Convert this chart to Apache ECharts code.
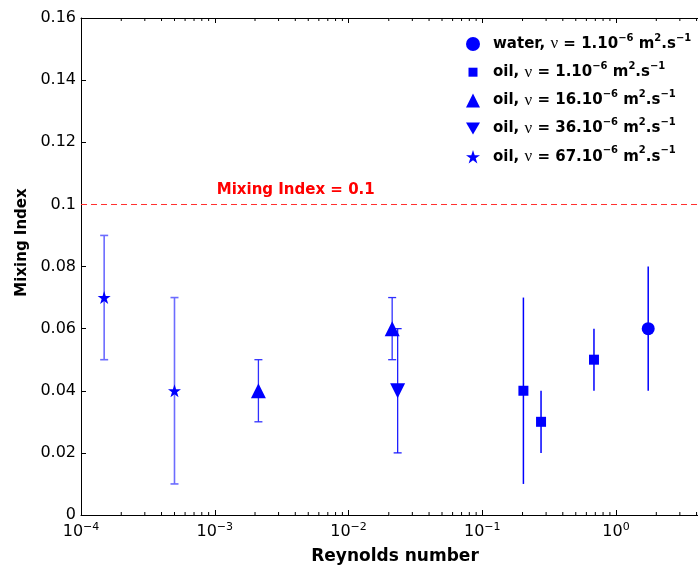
<!DOCTYPE html>
<html>
<head>
<meta charset="utf-8">
<script src="https://cdn.jsdelivr.net/npm/echarts@6/dist/echarts.min.js"></script>
<style>
html, body { margin: 0; padding: 0; background: #fff; }
#chart { width: 698px; height: 570px; }
</style>
</head>
<body>
<div id="chart"></div>
<script>
// values (Reynolds number, mixing index, error bar ends)
var waterRe = [1.74];
var waterMix = [0.06];
var waterLow = [0.04];
var waterHigh = [0.08];

var oil1Re = [0.203, 0.275, 0.684];
var oil1Mix = [0.04, 0.03, 0.05];
var oil1Low = [0.01, 0.02, 0.04];
var oil1High = [0.07, 0.04, 0.06];

var oil16Re = [0.00212, 0.0212];
var oil16Mix = [0.04, 0.06];
var oil16Low = [0.03, 0.05];
var oil16High = [0.05, 0.07];

var oil36Re = [0.0233];
var oil36Mix = [0.04];
var oil36Low = [0.02];
var oil36High = [0.06];

var oil67Re = [0.000149, 0.0005];
var oil67Mix = [0.07, 0.04];
var oil67Low = [0.05, 0.01];
var oil67High = [0.09, 0.07];

var fluids = ['water', 'oil', 'oil', 'oil', 'oil'];
var viscosities = ['1', '1', '16', '36', '67'];

var limitValue = 0.1;
var limitLabel = 'Mixing Index = 0.1';
var limitLabelRe = 0.00403;

var xMin = 1e-4, xMax = 4.1;
var yMin = 0, yMax = 0.16, yStep = 0.02;

// minor ticks of the log axis: 2..9 in every decade
var minorTicks = [];
for (var k = -4; k <= 0; k++) {
    for (var m = 2; m <= 9; m++) {
        var v = m * Math.pow(10, k);
        if (v < xMax) minorTicks.push([v, yMin]);
    }
}

var seriesNames = fluids.map(function (f, i) {
    return f + ', ν = ' + viscosities[i] + '.10-6 m2.s-1';
});

function zip(xs, ys) {
    return xs.map(function (x, i) { return [x, ys[i]]; });
}
function zipBars(xs, lo, hi) {
    return xs.map(function (x, i) { return [x, lo[i], hi[i]]; });
}

var starPath = 'path://M50,0 L61.8,36 L99,36 L69,58 L80.5,95 L50,72.5 L19.5,95 L31,58 L1,36 L38.2,36 Z';
var legendSquare = 'path://M0,0 M14,14 M2.5,2.5 L11.5,2.5 L11.5,11.5 L2.5,11.5 Z';
var legendDown = 'path://M0,0 L14,0 L7,12 Z';

function errorBars(capHalf, color, width) {
    return function (params, api) {
        var top = api.coord([api.value(0), api.value(2)]);
        var bottom = api.coord([api.value(0), api.value(1)]);
        var style = { stroke: color, lineWidth: width };
        var children = [{
            type: 'line',
            shape: { x1: top[0], y1: top[1], x2: bottom[0], y2: bottom[1] },
            style: style
        }];
        if (capHalf) {
            children.push({ type: 'line', shape: { x1: top[0] - capHalf, y1: top[1], x2: top[0] + capHalf, y2: top[1] }, style: style });
            children.push({ type: 'line', shape: { x1: bottom[0] - capHalf, y1: bottom[1], x2: bottom[0] + capHalf, y2: bottom[1] }, style: style });
        }
        return { type: 'group', children: children };
    };
}

function barSeries(xs, lo, hi, capHalf, color, width) {
    return {
        type: 'custom',
        silent: true,
        z: 2,
        data: zipBars(xs, lo, hi),
        encode: { x: 0, y: [1, 2] },
        renderItem: errorBars(capHalf, color, width)
    };
}

function pointSeries(name, xs, ys, symbol, size, rotate) {
    return {
        name: name,
        type: 'scatter',
        z: 3,
        symbol: symbol,
        symbolSize: size,
        symbolRotate: rotate || 0,
        itemStyle: { color: '#0000ff', opacity: 1 },
        data: zip(xs, ys)
    };
}

var font = 'DejaVu Sans';

var myChart = echarts.init(document.getElementById('chart'));
var option = {
    animation: false,
    backgroundColor: '#fff',
    grid: { left: 81, right: 0, top: 18, bottom: 53 },
    legend: {
        orient: 'vertical',
        left: 461,
        top: 28,
        itemWidth: 14,
        itemHeight: 14,
        itemGap: 8.7,
        selectedMode: false,
        data: [
            { name: seriesNames[0], icon: 'circle' },
            { name: seriesNames[1], icon: legendSquare },
            { name: seriesNames[2], icon: 'triangle' },
            { name: seriesNames[3], icon: legendDown },
            { name: seriesNames[4], icon: starPath }
        ],
        formatter: function (name) {
            var i = seriesNames.indexOf(name);
            return '{t|' + fluids[i] + ', }{nu|ν}{t| = ' + viscosities[i] + '.10}{s|−6}{t| m}{s|2}{t|.s}{s|−1}';
        },
        textStyle: {
            padding: [0, 0, 0, 8],
            rich: {
                t: { fontFamily: font, fontWeight: 'bold', fontSize: 15, color: '#000', lineHeight: 22 },
                nu: { fontFamily: 'Liberation Serif', fontSize: 17, color: '#000', lineHeight: 22 },
                s: { fontFamily: font, fontWeight: 'bold', fontSize: 10, color: '#000', lineHeight: 14, verticalAlign: 'top' }
            }
        }
    },
    xAxis: [{
        type: 'log',
        logBase: 10,
        min: xMin,
        max: xMax,
        name: 'Reynolds number',
        nameLocation: 'middle',
        nameGap: 33,
        nameTextStyle: { fontFamily: font, fontWeight: 'bold', fontSize: 17, color: '#000', padding: [0, 0, 0, 11] },
        axisLine: { lineStyle: { color: '#000', width: 1 } },
        axisTick: { inside: true, length: 5, lineStyle: { color: '#000' } },
        splitLine: { show: false },
        axisLabel: {
            margin: 7,
            showMaxLabel: false,
            formatter: function (v) {
                var e = Math.round(Math.log10(v));
                return '{b|10}{s|' + (e < 0 ? '−' + (-e) : e) + '}';
            },
            rich: {
                b: { fontFamily: font, fontSize: 16, color: '#000', lineHeight: 20 },
                s: { fontFamily: font, fontSize: 11, color: '#000', lineHeight: 12, verticalAlign: 'top' }
            }
        }
    }, {
        type: 'log',
        logBase: 10,
        min: xMin,
        max: xMax,
        position: 'top',
        axisLine: { lineStyle: { color: '#000', width: 1 } },
        axisTick: { inside: true, length: 5, lineStyle: { color: '#000' } },
        axisLabel: { show: false },
        splitLine: { show: false }
    }],
    yAxis: [{
        type: 'value',
        min: yMin,
        max: yMax,
        interval: yStep,
        name: 'Mixing Index',
        nameLocation: 'middle',
        nameGap: 37,
        nameRotate: 90,
        nameTextStyle: { fontFamily: font, fontWeight: 'bold', fontSize: 15, color: '#000', padding: [0, 0, 0, 48] },
        axisLine: { show: true, lineStyle: { color: '#000', width: 1 } },
        axisTick: { show: true, inside: true, length: 5, lineStyle: { color: '#000' } },
        splitLine: { show: false },
        axisLabel: { margin: 5, fontFamily: font, fontSize: 16, color: '#000' }
    }],
    series: [
        {
            type: 'custom',
            silent: true,
            z: 1,
            data: minorTicks,
            renderItem: function (params, api) {
                var p = api.coord([api.value(0), yMin]);
                var q = api.coord([api.value(0), yMax]);
                var style = { stroke: '#000', lineWidth: 1 };
                return {
                    type: 'group',
                    children: [
                        { type: 'line', shape: { x1: p[0], y1: p[1], x2: p[0], y2: p[1] - 3 }, style: style },
                        { type: 'line', shape: { x1: q[0], y1: q[1], x2: q[0], y2: q[1] + 3 }, style: style }
                    ]
                };
            }
        },
        barSeries(waterRe, waterLow, waterHigh, 0, '#0000ff', 1.5),
        barSeries(oil1Re, oil1Low, oil1High, 0, '#0000ff', 1.5),
        barSeries(oil16Re, oil16Low, oil16High, 4, '#3030ff', 1.3),
        barSeries(oil36Re, oil36Low, oil36High, 4, '#2020ff', 1.3),
        barSeries(oil67Re, oil67Low, oil67High, 4, '#6c6cff', 1.6),
        pointSeries(seriesNames[0], waterRe, waterMix, 'circle', 13),
        pointSeries(seriesNames[1], oil1Re, oil1Mix, 'rect', 10),
        pointSeries(seriesNames[2], oil16Re, oil16Mix, 'triangle', 15),
        pointSeries(seriesNames[3], oil36Re, oil36Mix, 'triangle', 15, 180),
        pointSeries(seriesNames[4], oil67Re, oil67Mix, starPath, 13),
        {
            type: 'scatter',
            silent: true,
            itemStyle: { color: '#ff0000' },
            data: [],
            markLine: {
                silent: true,
                symbol: 'none',
                label: { show: false },
                lineStyle: { color: '#ff3030', type: [6, 4], width: 1, opacity: 1 },
                data: [{ yAxis: limitValue, lineStyle: { color: '#ff3030', type: [6, 4], width: 1 } }]
            },
            markPoint: {
                silent: true,
                symbol: 'circle',
                symbolSize: 0,
                label: {
                    show: true,
                    offset: [0, -14],
                    formatter: limitLabel,
                    fontFamily: font,
                    fontWeight: 'bold',
                    fontSize: 15,
                    color: '#ff0000'
                },
                data: [{ coord: [limitLabelRe, limitValue] }]
            }
        }
    ]
};
myChart.setOption(option);
</script>
</body>
</html>
